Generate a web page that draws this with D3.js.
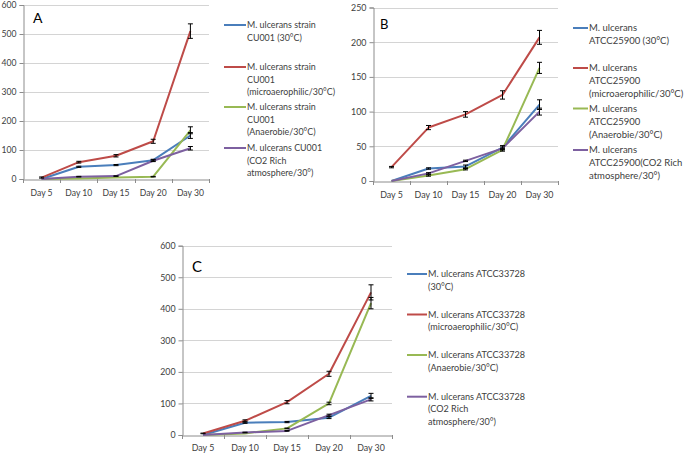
<!DOCTYPE html>
<html><head><meta charset="utf-8">
<script src="https://cdn.jsdelivr.net/npm/d3@7"></script>
<style>
html,body{margin:0;padding:0;background:#fff;}
svg{display:block;font-family:Lato,"Open Sans",sans-serif;}
</style></head>
<body><svg id="chart" width="685" height="454"></svg>
<script>
const categories = ["Day 5","Day 10","Day 15","Day 20","Day 30"];
const yTicksAC = [0,100,200,300,400,500,600];
const yTicksB = [0,50,100,150,200,250];
const seriesColors = ["#4a7ebb","#be4b48","#98b954","#7d60a0"];

// Panel A
const aBlue = [0, 42, 48, 65, 150];   const aBlueErr = [0, 2, 2, 3, 10];
const aRed = [5, 58, 80, 130, 510];   const aRedErr = [2, 3, 4, 7, 25];
const aGreen = [0, 2, 5, 8, 168];     const aGreenErr = [0, 0, 0, 1, 12];
const aPurple = [0, 8, 10, 63, 106];  const aPurpleErr = [0, 1, 1, 3, 6];
const aLegend = [
  ["M. ulcerans strain","CU001 (30°C)"],
  ["M. ulcerans strain","CU001","(microaerophilic/30°C)"],
  ["M. ulcerans strain","CU001","(Anaerobie/30°C)"],
  ["M. ulcerans CU001","(CO2 Rich","atmosphere/30°)"]
];

// Panel B
const bBlue = [0, 18, 21, 48, 110];   const bBlueErr = [0, 1, 2, 3, 7];
const bRed = [20, 77, 96, 124, 207];  const bRedErr = [1, 3, 4, 6, 10];
const bGreen = [0, 8, 17, 45, 163];   const bGreenErr = [0, 1, 1, 2, 8];
const bPurple = [0, 11, 29, 47, 100]; const bPurpleErr = [0, 1, 1, 2, 5];
const bLegend = [
  ["M. ulcerans","ATCC25900 (30°C)"],
  ["M. ulcerans","ATCC25900","(microaerophilic/30°C)"],
  ["M. ulcerans","ATCC25900","(Anaerobie/30°C)"],
  ["M. ulcerans","ATCC25900(CO2 Rich","atmosphere/30°)"]
];

// Panel C
const cBlue = [0, 39, 41, 55, 124];   const cBlueErr = [0, 2, 2, 3, 8];
const cRed = [5, 45, 104, 194, 452];  const cRedErr = [1, 3, 5, 8, 24];
const cGreen = [0, 5, 21, 100, 418];  const cGreenErr = [0, 0, 1, 4, 18];
const cPurple = [0, 8, 13, 63, 113];  const cPurpleErr = [0, 1, 1, 3, 5];
const cLegend = [
  ["M. ulcerans ATCC33728","(30°C)"],
  ["M. ulcerans ATCC33728","(microaerophilic/30°C)"],
  ["M. ulcerans ATCC33728","(Anaerobie/30°C)"],
  ["M. ulcerans ATCC33728","(CO2 Rich","atmosphere/30°)"]
];

const svg = d3.select("#chart");

function drawPanel(p) {
  const g = svg.append("g");
  const x = d3.scaleBand().domain(categories).range([p.x0, p.x1]);
  const y = d3.scaleLinear().domain([0, p.ymax]).range([p.y0, p.y1]);
  const cx = d => x(d) + x.bandwidth() / 2;

  // gridlines
  g.selectAll(".grid").data(p.ticks.filter(t => t > 0)).join("line")
    .attr("x1", p.x0).attr("x2", p.x1)
    .attr("y1", d => Math.round(y(d)) + 0.5).attr("y2", d => Math.round(y(d)) + 0.5)
    .attr("stroke", "#d4d4d4").attr("stroke-width", 1);

  // y axis
  const ya = g.append("g").attr("transform", `translate(${p.x0 + 0.5},0)`)
    .call(d3.axisLeft(y).tickValues(p.ticks).tickSize(4).tickPadding(3));
  ya.select(".domain").attr("stroke", "#8c8c8c");
  ya.selectAll(".tick line").attr("stroke", "#8c8c8c");
  ya.selectAll(".tick text").attr("fill", "#404040").style("font-size", p.fs + "px").style("font-family", "Lato,sans-serif");

  // x axis
  const xa = g.append("g").attr("transform", `translate(0,${Math.round(p.y0) + 0.5})`)
    .call(d3.axisBottom(x).tickSize(0).tickPadding(p.xpad));
  xa.select(".domain").attr("stroke", "#8c8c8c");
  xa.selectAll(".tick text").attr("fill", "#404040").style("font-size", p.fs + "px").style("font-family", "Lato,sans-serif");
  // tick marks at band boundaries
  const bounds = categories.map(c => x(c)).concat([p.x1]);
  g.selectAll(".xt").data(bounds).join("line")
    .attr("x1", d => Math.round(d) + 0.5).attr("x2", d => Math.round(d) + 0.5)
    .attr("y1", p.y0).attr("y2", p.y0 + 4)
    .attr("stroke", "#8c8c8c");

  // lines
  const line = d3.line().x((d, i) => cx(categories[i])).y(d => y(d));
  p.series.forEach((s, si) => {
    g.append("path").datum(s.values).attr("d", line)
      .attr("fill", "none").attr("stroke", seriesColors[si]).attr("stroke-width", 2)
      .attr("stroke-linejoin", "round");
  });
  // error bars
  p.series.forEach((s, si) => {
    s.values.forEach((v, i) => {
      const e = s.err[i];
      if (!e) return;
      const xx = cx(categories[i]);
      const eg = g.append("g").attr("stroke", "#000").attr("stroke-width", 1);
      eg.append("line").attr("x1", xx).attr("x2", xx).attr("y1", y(v - e)).attr("y2", y(v + e));
      eg.append("line").attr("x1", xx - 2.5).attr("x2", xx + 2.5).attr("y1", y(v - e)).attr("y2", y(v - e));
      eg.append("line").attr("x1", xx - 2.5).attr("x2", xx + 2.5).attr("y1", y(v + e)).attr("y2", y(v + e));
    });
  });

  // panel letter
  g.append("text").attr("x", p.lx).attr("y", p.ly).text(p.letter)
    .attr("fill", "#000").style("font-size", p.lsize + "px");

  // legend
  p.legend.forEach((lines, i) => {
    const ly = p.legY[i];
    g.append("line").attr("x1", p.legX0).attr("x2", p.legX1).attr("y1", ly).attr("y2", ly)
      .attr("stroke", seriesColors[i]).attr("stroke-width", 2);
    const t = g.append("text").attr("x", p.legX1 + 1).attr("y", ly + 3.3)
      .attr("fill", "#404040").style("font-size", p.lfs + "px");
    lines.forEach((ln, j) => {
      t.append("tspan").attr("x", p.legX1 + 1).attr("y", ly + 3.3 + j * p.lh).text(ln);
    });
  });
}

drawPanel({
  x0: 23, x1: 209, y0: 179, y1: 5, ymax: 600, ticks: yTicksAC, xpad: 10, fs: 8.6,
  letter: "A", lx: 33, ly: 23, lsize: 14,
  series: [
    {values: aBlue, err: aBlueErr}, {values: aRed, err: aRedErr},
    {values: aGreen, err: aGreenErr}, {values: aPurple, err: aPurpleErr}
  ],
  legend: aLegend, legX0: 224, legX1: 246, legY: [25, 67, 107, 148], lh: 12.3, lfs: 8.9
});
drawPanel({
  x0: 373, x1: 558, y0: 181, y1: 7.5, ymax: 250, ticks: yTicksB, xpad: 10, fs: 8.9,
  letter: "B", lx: 380, ly: 28.5, lsize: 13,
  series: [
    {values: bBlue, err: bBlueErr}, {values: bRed, err: bRedErr},
    {values: bGreen, err: bGreenErr}, {values: bPurple, err: bPurpleErr}
  ],
  legend: bLegend, legX0: 573, legX1: 588, legY: [28, 68, 108.5, 150], lh: 13, lfs: 9.5
});
drawPanel({
  x0: 182, x1: 392, y0: 435, y1: 245.7, ymax: 600, ticks: yTicksAC, xpad: 9, fs: 8.8,
  letter: "C", lx: 192, ly: 272, lsize: 15,
  series: [
    {values: cBlue, err: cBlueErr}, {values: cRed, err: cRedErr},
    {values: cGreen, err: cGreenErr}, {values: cPurple, err: cPurpleErr}
  ],
  legend: cLegend, legX0: 407, legX1: 427, legY: [274, 314.5, 355, 396.7], lh: 12.3, lfs: 9.1
});
</script></body></html>
